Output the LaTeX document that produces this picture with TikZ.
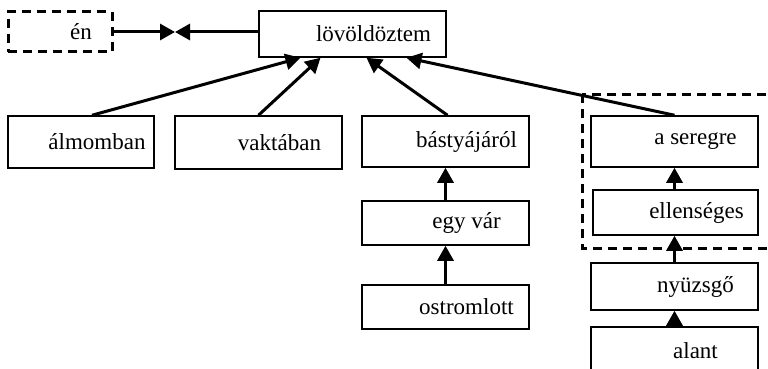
\documentclass[tikz,border=0pt]{standalone}
\usepackage{fontspec}
\setmainfont{Liberation Serif}
\usetikzlibrary{arrows.meta}
\begin{document}
\begin{tikzpicture}[x=1pt, y=-1pt,
                    line width=1.5pt,
                    font=\fontsize{23}{27}\selectfont]
    \tikzstyle{box}=[draw,rectangle,minimum width=167pt,minimum height=51pt,inner sep=0pt]
    \tikzstyle{word}=[box,execute at begin node={\hspace*{42pt}}]
    \tikzstyle{wordleft}=[box,execute at begin node={\hspace*{32pt}}]
    \tikzstyle{wordhidden}=[word,line width=3pt,dash pattern=on 9pt off 6pt]
    \tikzstyle{group}=[line width=3pt,dash pattern=on 9pt off 6pt]
    \tikzstyle{link}=[line width=3pt,-{Triangle[length=15pt,width=16pt]}]

    \clip (0,0) rectangle (768,369);

    % top level
    \node[wordhidden,minimum width=104pt,minimum height=40pt] (en) at (60,32) {én};
    \node[word,minimum width=187pt,minimum height=46pt] (lov) at (352.5,34) {lövöldöztem};

    % dependents
    \node[wordleft,minimum width=146pt,minimum height=52pt] (alm) at (81,142) {álmomban};
    \node[word,minimum height=53pt] (vak) at (258.5,142.5) {vaktában};
    \node[word] (bas) at (445.5,141.5) {bástyájáról};
    \node[word,minimum height=44pt] (egy) at (445.5,223) {egy vár};
    \node[word,minimum height=44pt] (ost) at (445.5,307) {ostromlott};
    \node[word] (ser) at (674.5,141.5) {a seregre};
    \node[word,minimum width=165pt,minimum height=45pt] (ell) at (675.5,212.5) {ellenséges};
    \node[word,minimum height=47pt] (nyu) at (674.5,286.5) {nyüzsgő};
    \node[word,minimum height=48pt] (ala) at (674.5,351) {alant};

    \draw[group] (582,94) rectangle (775,248);

    \coordinate (meet) at (175,32);
    \draw[link] (en.east) -- (meet);
    \draw[link] (lov.west |- meet) -- (meet);

    \draw[link] ([xshift=11pt]alm.north) -- ([xshift=-52pt]lov.south);
    \draw[link] (vak.north) -- ([xshift=-32pt]lov.south);
    \draw[link] ([xshift=2pt]bas.north) -- ([xshift=14pt]lov.south);
    \draw[link] (ser.north) -- ([xshift=54pt]lov.south);

    \draw[link] (egy) -- (bas);
    \draw[link] (ost) -- (egy);
    \draw[link] (ell.north -| ser.south) -- (ser.south);
    \draw[link] (nyu.north) -- (nyu.north |- ell.south);
    \draw[link] (ala.north) -- (nyu.south);
\end{tikzpicture}
\end{document}
